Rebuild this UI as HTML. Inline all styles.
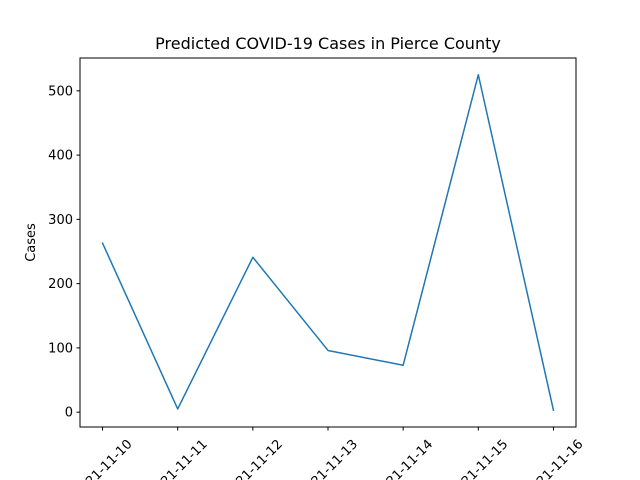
<!DOCTYPE html>
<html><head><meta charset="utf-8"><style>
body{margin:0;background:#fff;}
svg{display:block;font-family:"DejaVu Sans","Liberation Sans",sans-serif;}
</style></head><body>
<svg id="chart" width="640" height="480" viewBox="0 0 640 480" xmlns="http://www.w3.org/2000/svg">
<rect width="640" height="480" fill="#fff"/>
<text x="328" y="49" text-anchor="middle" font-size="16" fill="#000">Predicted COVID-19 Cases in Pierce County</text>
<text transform="translate(35,242.5) rotate(-90)" text-anchor="middle" font-size="13" fill="#000">Cases</text>
<g id="ticks"></g>
<polyline id="line" fill="none" stroke="#1f77b4" stroke-width="1.5" stroke-linejoin="round" stroke-linecap="square"/>
<rect x="80" y="58" width="496" height="369" fill="none" stroke="#000" stroke-width="1"/>
</svg>
<script>
const categories=["2021-11-10","2021-11-11","2021-11-12","2021-11-13","2021-11-14","2021-11-15","2021-11-16"];
const cases=[263,5,241,96,73,525,3];
const yTicks=[0,100,200,300,400,500];
const L=80,R=576,T=58,B=427;
const ymin=Math.min(...cases),ymax=Math.max(...cases),pad=(ymax-ymin)*0.05;
const y0=ymin-pad,y1=ymax+pad;
const x0=-0.3,x1=categories.length-1+0.3;
const xs=i=>L+(i-x0)/(x1-x0)*(R-L);
const ys=v=>B-(v-y0)/(y1-y0)*(B-T);
const NS="http://www.w3.org/2000/svg";
const g=document.getElementById('ticks');
function mk(t,a){const e=document.createElementNS(NS,t);for(const k in a)e.setAttribute(k,a[k]);return e;}
yTicks.forEach(v=>{
  const y=ys(v);
  const l=mk('line',{x1:L-3.5,x2:L,y1:y,y2:y,stroke:'#000'});
  
  
  g.appendChild(l);
  const t=mk('text',{x:L-7,y:y+4.5,'text-anchor':'end','font-size':'13'});
  
  
  t.textContent=v;g.appendChild(t);
});
categories.forEach((c,i)=>{
  const x=xs(i);
  const l=mk('line',{x1:x,x2:x,y1:B,y2:B+3.5,stroke:'#000'});
  
  
  g.appendChild(l);
  const t=mk('text',{transform:`translate(${x+1},${B+42}) rotate(-45)`,'text-anchor':'middle','dominant-baseline':'central','font-size':'13'});
  
  
  t.textContent=c;g.appendChild(t);
});
document.getElementById('line').setAttribute('points',cases.map((v,i)=>xs(i)+','+ys(v)).join(' '));
</script>
</body></html>
